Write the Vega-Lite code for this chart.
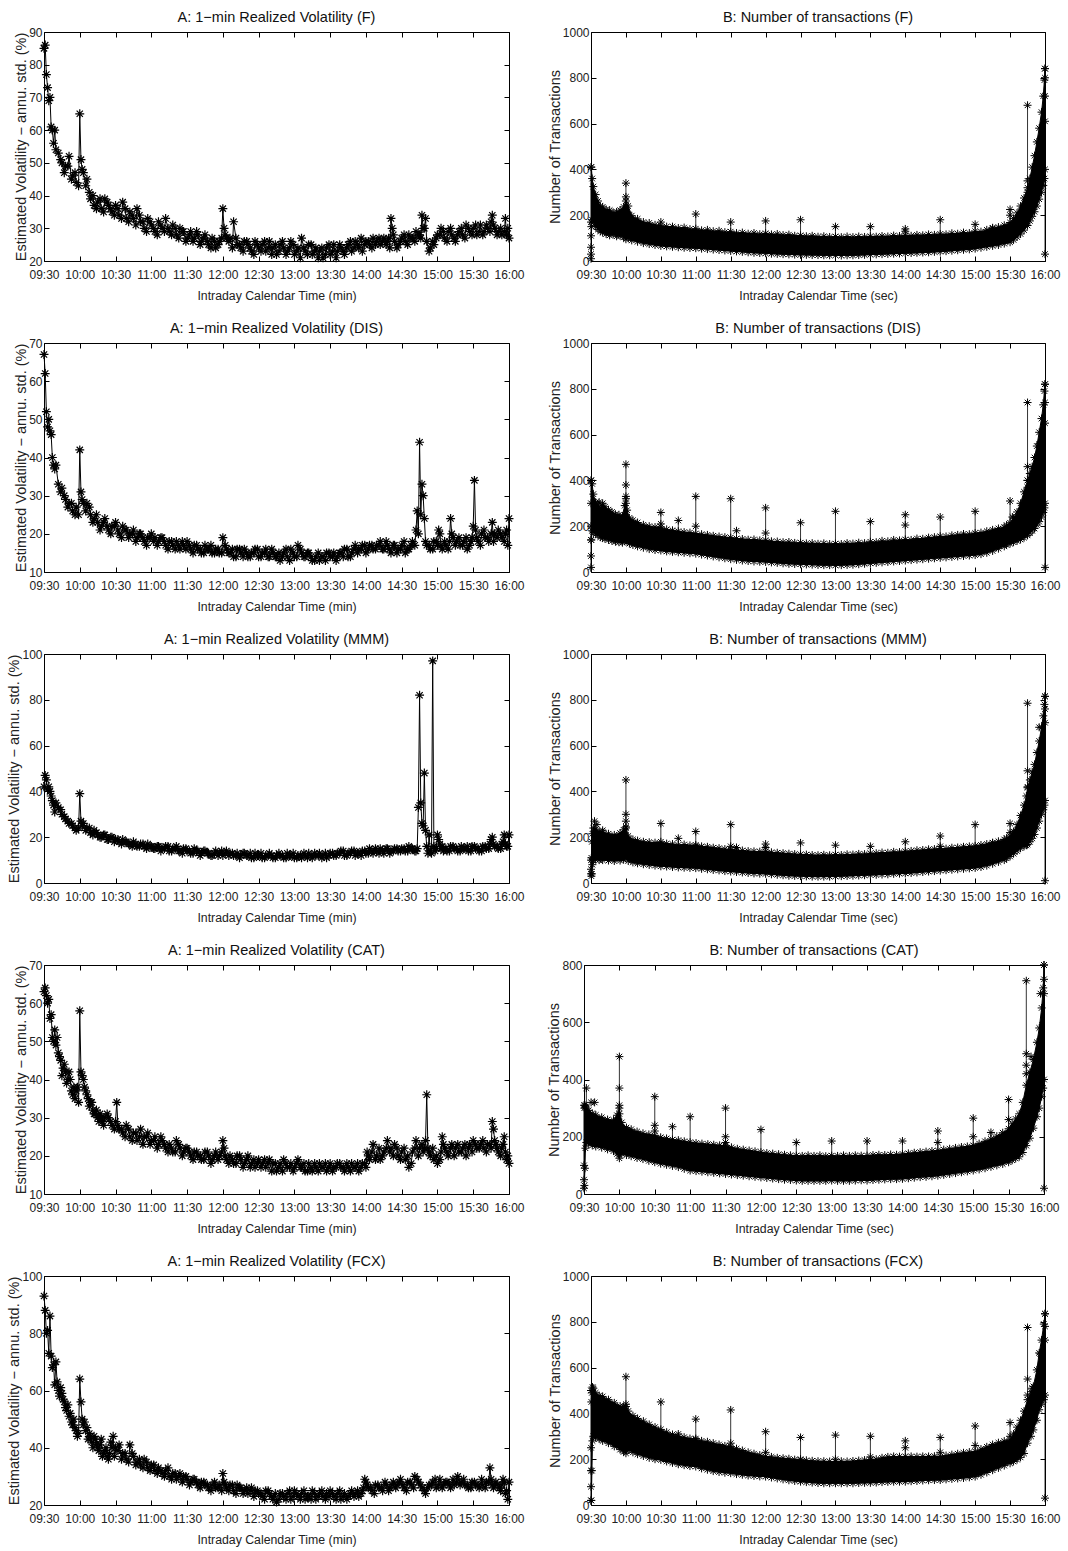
{
"$schema":"https://vega.github.io/schema/vega-lite/v6.json",
"background":"white",
"padding":{"left":6,"top":9,"right":2,"bottom":2},
"columns":2,
"align":"none",
"spacing":{"row":18,"column":21},
"datasets":{
"vF":[{"m":0,"v":85},{"m":1,"v":86},{"m":2,"v":77},{"m":3,"v":73},{"m":4,"v":69},{"m":5,"v":70},{"m":6,"v":61},{"m":7,"v":60},{"m":8,"v":56},{"m":9,"v":60},{"m":10,"v":54},{"m":12,"v":53},{"m":15,"v":50},{"m":18,"v":49},{"m":21,"v":52},{"m":24,"v":46},{"m":27,"v":44},{"m":29,"v":43},{"m":30,"v":65},{"m":31,"v":51},{"m":33,"v":47},{"m":36,"v":45},{"m":39,"v":39},{"m":42,"v":37},{"m":45,"v":38},{"m":48,"v":36},{"m":51,"v":39},{"m":54,"v":37},{"m":57,"v":35},{"m":60,"v":37},{"m":63,"v":34},{"m":66,"v":38},{"m":69,"v":33},{"m":72,"v":35},{"m":75,"v":33},{"m":78,"v":36},{"m":81,"v":32},{"m":84,"v":30},{"m":87,"v":33},{"m":90,"v":31},{"m":93,"v":29},{"m":96,"v":32},{"m":99,"v":30},{"m":102,"v":33},{"m":105,"v":29},{"m":108,"v":31},{"m":111,"v":28},{"m":114,"v":30},{"m":117,"v":29},{"m":120,"v":27},{"m":123,"v":29},{"m":126,"v":27},{"m":129,"v":28},{"m":132,"v":26},{"m":135,"v":28},{"m":138,"v":25},{"m":141,"v":27},{"m":144,"v":24},{"m":147,"v":26},{"m":150,"v":36},{"m":151,"v":30},{"m":153,"v":27},{"m":156,"v":27},{"m":159,"v":32},{"m":162,"v":25},{"m":165,"v":24},{"m":168,"v":26},{"m":171,"v":25},{"m":174,"v":23},{"m":177,"v":26},{"m":180,"v":24},{"m":183,"v":25},{"m":186,"v":23},{"m":189,"v":26},{"m":192,"v":24},{"m":195,"v":22},{"m":198,"v":25},{"m":201,"v":24},{"m":204,"v":23},{"m":207,"v":26},{"m":210,"v":22},{"m":213,"v":24},{"m":216,"v":27},{"m":219,"v":23},{"m":222,"v":25},{"m":225,"v":22},{"m":228,"v":24},{"m":231,"v":23},{"m":234,"v":21},{"m":237,"v":24},{"m":240,"v":22},{"m":243,"v":25},{"m":246,"v":23},{"m":249,"v":24},{"m":252,"v":22},{"m":255,"v":25},{"m":258,"v":23},{"m":261,"v":26},{"m":264,"v":24},{"m":267,"v":23},{"m":270,"v":26},{"m":273,"v":25},{"m":276,"v":27},{"m":279,"v":26},{"m":282,"v":25},{"m":285,"v":27},{"m":288,"v":26},{"m":290,"v":24},{"m":291,"v":33},{"m":292,"v":30},{"m":294,"v":26},{"m":297,"v":25},{"m":300,"v":27},{"m":303,"v":26},{"m":306,"v":28},{"m":309,"v":27},{"m":312,"v":29},{"m":315,"v":28},{"m":317,"v":34},{"m":318,"v":30},{"m":320,"v":33},{"m":321,"v":26},{"m":324,"v":24},{"m":327,"v":25},{"m":330,"v":28},{"m":333,"v":30},{"m":336,"v":27},{"m":339,"v":29},{"m":342,"v":28},{"m":345,"v":26},{"m":348,"v":29},{"m":351,"v":28},{"m":354,"v":31},{"m":357,"v":29},{"m":360,"v":30},{"m":363,"v":28},{"m":366,"v":31},{"m":369,"v":29},{"m":372,"v":30},{"m":375,"v":32},{"m":376,"v":34},{"m":378,"v":30},{"m":381,"v":29},{"m":384,"v":28},{"m":387,"v":33},{"m":388,"v":28},{"m":390,"v":27},
{"m":14,"v":51},{"m":17,"v":47},{"m":20,"v":49},{"m":23,"v":45},{"m":26,"v":47},{"m":32,"v":48},{"m":35,"v":43},{"m":38,"v":41},{"m":41,"v":40},{"m":44,"v":36},{"m":47,"v":39},{"m":50,"v":35},{"m":53,"v":38},{"m":56,"v":36},{"m":59,"v":34},{"m":62,"v":36},{"m":65,"v":33},{"m":68,"v":36},{"m":71,"v":32},{"m":74,"v":34},{"m":77,"v":31},{"m":80,"v":34},{"m":83,"v":32},{"m":86,"v":29},{"m":89,"v":32},{"m":92,"v":30},{"m":95,"v":28},{"m":98,"v":31},{"m":101,"v":29},{"m":104,"v":30},{"m":107,"v":28},{"m":110,"v":30},{"m":113,"v":27},{"m":116,"v":29},{"m":119,"v":26},{"m":122,"v":28},{"m":125,"v":26},{"m":128,"v":29},{"m":131,"v":25},{"m":134,"v":27},{"m":137,"v":26},{"m":140,"v":24},{"m":143,"v":26},{"m":146,"v":25},{"m":149,"v":27},{"m":152,"v":28},{"m":155,"v":26},{"m":158,"v":24},{"m":161,"v":27},{"m":164,"v":25},{"m":167,"v":23},{"m":170,"v":26},{"m":173,"v":24},{"m":176,"v":22},{"m":179,"v":25},{"m":182,"v":23},{"m":185,"v":26},{"m":188,"v":24},{"m":191,"v":22},{"m":194,"v":25},{"m":197,"v":23},{"m":200,"v":26},{"m":203,"v":22},{"m":206,"v":24},{"m":209,"v":25},{"m":212,"v":23},{"m":215,"v":21},{"m":218,"v":24},{"m":221,"v":22},{"m":224,"v":25},{"m":227,"v":23},{"m":230,"v":21},{"m":233,"v":24},{"m":236,"v":22},{"m":239,"v":25},{"m":242,"v":23},{"m":245,"v":21},{"m":248,"v":25},{"m":251,"v":23},{"m":254,"v":24},{"m":257,"v":26},{"m":260,"v":24},{"m":263,"v":25},{"m":266,"v":27},{"m":269,"v":25},{"m":272,"v":26},{"m":275,"v":24},{"m":278,"v":25},{"m":281,"v":27},{"m":284,"v":26},{"m":287,"v":25},{"m":289,"v":27},{"m":293,"v":28},{"m":296,"v":24},{"m":299,"v":26},{"m":302,"v":28},{"m":305,"v":25},{"m":308,"v":27},{"m":311,"v":26},{"m":314,"v":28},{"m":316,"v":27},{"m":319,"v":30},{"m":323,"v":23},{"m":326,"v":26},{"m":329,"v":27},{"m":332,"v":28},{"m":335,"v":29},{"m":338,"v":26},{"m":341,"v":30},{"m":344,"v":27},{"m":347,"v":28},{"m":350,"v":30},{"m":353,"v":27},{"m":356,"v":30},{"m":359,"v":28},{"m":362,"v":31},{"m":365,"v":29},{"m":368,"v":28},{"m":371,"v":31},{"m":374,"v":29},{"m":377,"v":31},{"m":380,"v":28},{"m":383,"v":30},{"m":386,"v":29},{"m":389,"v":30}],
"vDIS":[{"m":0,"v":67},{"m":1,"v":62},{"m":2,"v":52},{"m":3,"v":48},{"m":4,"v":50},{"m":5,"v":47},{"m":6,"v":46},{"m":7,"v":40},{"m":8,"v":38},{"m":9,"v":37},{"m":10,"v":38},{"m":12,"v":33},{"m":15,"v":32},{"m":18,"v":29},{"m":21,"v":28},{"m":24,"v":26},{"m":27,"v":27},{"m":29,"v":25},{"m":30,"v":42},{"m":31,"v":31},{"m":33,"v":28},{"m":36,"v":28},{"m":39,"v":25},{"m":42,"v":24},{"m":45,"v":23},{"m":48,"v":22},{"m":51,"v":24},{"m":54,"v":21},{"m":57,"v":22},{"m":60,"v":23},{"m":63,"v":20},{"m":66,"v":22},{"m":69,"v":21},{"m":72,"v":20},{"m":75,"v":21},{"m":78,"v":19},{"m":81,"v":20},{"m":84,"v":18},{"m":87,"v":19},{"m":90,"v":20},{"m":93,"v":19},{"m":96,"v":18},{"m":99,"v":19},{"m":102,"v":17},{"m":105,"v":18},{"m":108,"v":17},{"m":111,"v":18},{"m":114,"v":16},{"m":117,"v":17},{"m":120,"v":18},{"m":123,"v":16},{"m":126,"v":17},{"m":129,"v":16},{"m":132,"v":15},{"m":135,"v":17},{"m":138,"v":16},{"m":141,"v":15},{"m":144,"v":16},{"m":147,"v":15},{"m":150,"v":19},{"m":153,"v":16},{"m":156,"v":15},{"m":159,"v":14},{"m":162,"v":16},{"m":165,"v":15},{"m":168,"v":16},{"m":171,"v":14},{"m":174,"v":15},{"m":177,"v":16},{"m":180,"v":14},{"m":183,"v":15},{"m":186,"v":16},{"m":189,"v":14},{"m":192,"v":15},{"m":195,"v":14},{"m":198,"v":13},{"m":201,"v":15},{"m":204,"v":14},{"m":207,"v":16},{"m":210,"v":14},{"m":213,"v":17},{"m":216,"v":15},{"m":219,"v":14},{"m":222,"v":15},{"m":225,"v":13},{"m":228,"v":14},{"m":231,"v":13},{"m":234,"v":14},{"m":237,"v":15},{"m":240,"v":14},{"m":243,"v":15},{"m":246,"v":14},{"m":249,"v":15},{"m":252,"v":16},{"m":255,"v":14},{"m":258,"v":15},{"m":261,"v":17},{"m":264,"v":16},{"m":267,"v":17},{"m":270,"v":15},{"m":273,"v":17},{"m":276,"v":16},{"m":279,"v":17},{"m":282,"v":18},{"m":285,"v":16},{"m":288,"v":17},{"m":291,"v":15},{"m":294,"v":17},{"m":297,"v":16},{"m":300,"v":17},{"m":303,"v":15},{"m":306,"v":16},{"m":309,"v":18},{"m":312,"v":21},{"m":313,"v":26},{"m":315,"v":44},{"m":316,"v":25},{"m":317,"v":33},{"m":318,"v":30},{"m":319,"v":24},{"m":321,"v":17},{"m":324,"v":16},{"m":327,"v":18},{"m":330,"v":17},{"m":331,"v":21},{"m":332,"v":20},{"m":334,"v":16},{"m":337,"v":17},{"m":340,"v":18},{"m":341,"v":24},{"m":343,"v":19},{"m":346,"v":18},{"m":349,"v":17},{"m":352,"v":18},{"m":355,"v":16},{"m":358,"v":18},{"m":360,"v":22},{"m":361,"v":34},{"m":362,"v":21},{"m":364,"v":18},{"m":367,"v":20},{"m":370,"v":19},{"m":373,"v":18},{"m":376,"v":23},{"m":378,"v":20},{"m":381,"v":21},{"m":384,"v":19},{"m":387,"v":20},{"m":389,"v":17},{"m":390,"v":24},
{"m":14,"v":31},{"m":17,"v":30},{"m":20,"v":27},{"m":23,"v":28},{"m":26,"v":25},{"m":32,"v":29},{"m":35,"v":26},{"m":38,"v":27},{"m":41,"v":23},{"m":44,"v":25},{"m":47,"v":21},{"m":50,"v":23},{"m":53,"v":22},{"m":56,"v":20},{"m":59,"v":22},{"m":62,"v":21},{"m":65,"v":19},{"m":68,"v":21},{"m":71,"v":19},{"m":74,"v":20},{"m":77,"v":18},{"m":80,"v":20},{"m":83,"v":19},{"m":86,"v":17},{"m":89,"v":19},{"m":92,"v":18},{"m":95,"v":17},{"m":98,"v":19},{"m":101,"v":18},{"m":104,"v":16},{"m":107,"v":18},{"m":110,"v":16},{"m":113,"v":17},{"m":116,"v":18},{"m":119,"v":16},{"m":122,"v":17},{"m":125,"v":15},{"m":128,"v":17},{"m":131,"v":16},{"m":134,"v":15},{"m":137,"v":16},{"m":140,"v":17},{"m":143,"v":15},{"m":146,"v":16},{"m":149,"v":15},{"m":152,"v":17},{"m":155,"v":15},{"m":158,"v":16},{"m":161,"v":14},{"m":164,"v":16},{"m":167,"v":14},{"m":170,"v":15},{"m":173,"v":14},{"m":176,"v":15},{"m":179,"v":16},{"m":182,"v":14},{"m":185,"v":15},{"m":188,"v":14},{"m":191,"v":16},{"m":194,"v":14},{"m":197,"v":15},{"m":200,"v":14},{"m":203,"v":16},{"m":206,"v":13},{"m":209,"v":15},{"m":212,"v":14},{"m":215,"v":16},{"m":218,"v":14},{"m":221,"v":15},{"m":224,"v":14},{"m":227,"v":13},{"m":230,"v":15},{"m":233,"v":14},{"m":236,"v":13},{"m":239,"v":15},{"m":242,"v":14},{"m":245,"v":13},{"m":248,"v":15},{"m":251,"v":14},{"m":254,"v":16},{"m":257,"v":14},{"m":260,"v":16},{"m":263,"v":15},{"m":266,"v":16},{"m":269,"v":17},{"m":272,"v":16},{"m":275,"v":17},{"m":278,"v":16},{"m":281,"v":17},{"m":284,"v":16},{"m":287,"v":18},{"m":290,"v":16},{"m":293,"v":17},{"m":296,"v":15},{"m":299,"v":16},{"m":302,"v":18},{"m":305,"v":16},{"m":308,"v":17},{"m":311,"v":17},{"m":314,"v":20},{"m":320,"v":18},{"m":323,"v":17},{"m":326,"v":16},{"m":329,"v":18},{"m":333,"v":17},{"m":336,"v":18},{"m":339,"v":16},{"m":342,"v":20},{"m":345,"v":17},{"m":348,"v":19},{"m":351,"v":17},{"m":354,"v":19},{"m":357,"v":17},{"m":359,"v":19},{"m":363,"v":19},{"m":366,"v":17},{"m":369,"v":21},{"m":372,"v":19},{"m":375,"v":20},{"m":377,"v":18},{"m":380,"v":19},{"m":383,"v":20},{"m":386,"v":18},{"m":388,"v":21}],
"vMMM":[{"m":0,"v":42},{"m":1,"v":47},{"m":2,"v":45},{"m":3,"v":41},{"m":4,"v":42},{"m":5,"v":40},{"m":6,"v":38},{"m":7,"v":36},{"m":8,"v":34},{"m":9,"v":31},{"m":10,"v":35},{"m":12,"v":33},{"m":15,"v":30},{"m":18,"v":28},{"m":21,"v":26},{"m":24,"v":25},{"m":27,"v":23},{"m":29,"v":24},{"m":30,"v":39},{"m":31,"v":27},{"m":33,"v":26},{"m":36,"v":24},{"m":39,"v":22},{"m":42,"v":23},{"m":45,"v":21},{"m":48,"v":20},{"m":51,"v":21},{"m":54,"v":19},{"m":57,"v":20},{"m":60,"v":19},{"m":63,"v":18},{"m":66,"v":19},{"m":69,"v":18},{"m":72,"v":17},{"m":75,"v":18},{"m":78,"v":16},{"m":81,"v":17},{"m":84,"v":16},{"m":87,"v":17},{"m":90,"v":16},{"m":93,"v":15},{"m":96,"v":16},{"m":99,"v":15},{"m":102,"v":16},{"m":105,"v":14},{"m":108,"v":15},{"m":111,"v":16},{"m":114,"v":14},{"m":117,"v":15},{"m":120,"v":14},{"m":123,"v":13},{"m":126,"v":15},{"m":129,"v":14},{"m":132,"v":13},{"m":135,"v":14},{"m":138,"v":13},{"m":141,"v":12},{"m":144,"v":14},{"m":147,"v":13},{"m":150,"v":12},{"m":153,"v":14},{"m":156,"v":13},{"m":159,"v":12},{"m":162,"v":13},{"m":165,"v":12},{"m":168,"v":13},{"m":171,"v":12},{"m":174,"v":11},{"m":177,"v":13},{"m":180,"v":12},{"m":183,"v":11},{"m":186,"v":12},{"m":189,"v":13},{"m":192,"v":11},{"m":195,"v":12},{"m":198,"v":12},{"m":201,"v":11},{"m":204,"v":13},{"m":207,"v":12},{"m":210,"v":11},{"m":213,"v":12},{"m":216,"v":11},{"m":219,"v":12},{"m":222,"v":13},{"m":225,"v":11},{"m":228,"v":12},{"m":231,"v":13},{"m":234,"v":12},{"m":237,"v":11},{"m":240,"v":13},{"m":243,"v":12},{"m":246,"v":13},{"m":249,"v":14},{"m":252,"v":12},{"m":255,"v":13},{"m":258,"v":14},{"m":261,"v":12},{"m":264,"v":13},{"m":267,"v":14},{"m":270,"v":13},{"m":273,"v":15},{"m":276,"v":13},{"m":279,"v":14},{"m":282,"v":15},{"m":285,"v":13},{"m":288,"v":15},{"m":291,"v":14},{"m":294,"v":15},{"m":297,"v":14},{"m":300,"v":15},{"m":303,"v":14},{"m":306,"v":16},{"m":309,"v":15},{"m":312,"v":14},{"m":314,"v":33},{"m":315,"v":82},{"m":316,"v":35},{"m":317,"v":26},{"m":319,"v":48},{"m":320,"v":23},{"m":321,"v":16},{"m":322,"v":13},{"m":323,"v":21},{"m":324,"v":14},{"m":325,"v":13},{"m":326,"v":97},{"m":327,"v":16},{"m":328,"v":14},{"m":330,"v":21},{"m":331,"v":19},{"m":333,"v":15},{"m":335,"v":14},{"m":338,"v":14},{"m":341,"v":16},{"m":344,"v":15},{"m":347,"v":14},{"m":350,"v":16},{"m":353,"v":15},{"m":356,"v":14},{"m":359,"v":16},{"m":362,"v":15},{"m":365,"v":14},{"m":368,"v":16},{"m":371,"v":15},{"m":374,"v":17},{"m":376,"v":20},{"m":378,"v":16},{"m":381,"v":15},{"m":384,"v":17},{"m":386,"v":21},{"m":388,"v":16},{"m":390,"v":21},
{"m":14,"v":32},{"m":17,"v":29},{"m":20,"v":27},{"m":23,"v":26},{"m":26,"v":24},{"m":32,"v":25},{"m":35,"v":23},{"m":38,"v":24},{"m":41,"v":21},{"m":44,"v":22},{"m":47,"v":20},{"m":50,"v":21},{"m":53,"v":19},{"m":56,"v":20},{"m":59,"v":18},{"m":62,"v":19},{"m":65,"v":17},{"m":68,"v":18},{"m":71,"v":17},{"m":74,"v":16},{"m":77,"v":17},{"m":80,"v":16},{"m":83,"v":17},{"m":86,"v":15},{"m":89,"v":16},{"m":92,"v":15},{"m":95,"v":16},{"m":98,"v":14},{"m":101,"v":15},{"m":104,"v":16},{"m":107,"v":14},{"m":110,"v":15},{"m":113,"v":14},{"m":116,"v":13},{"m":119,"v":15},{"m":122,"v":14},{"m":125,"v":13},{"m":128,"v":14},{"m":131,"v":12},{"m":134,"v":14},{"m":137,"v":13},{"m":140,"v":12},{"m":143,"v":13},{"m":146,"v":12},{"m":149,"v":14},{"m":152,"v":13},{"m":155,"v":12},{"m":158,"v":13},{"m":161,"v":12},{"m":164,"v":11},{"m":167,"v":13},{"m":170,"v":12},{"m":173,"v":13},{"m":176,"v":11},{"m":179,"v":12},{"m":182,"v":13},{"m":185,"v":11},{"m":188,"v":12},{"m":191,"v":12},{"m":194,"v":11},{"m":197,"v":13},{"m":200,"v":12},{"m":203,"v":11},{"m":206,"v":12},{"m":209,"v":13},{"m":212,"v":11},{"m":215,"v":12},{"m":218,"v":13},{"m":221,"v":11},{"m":224,"v":12},{"m":227,"v":13},{"m":230,"v":12},{"m":233,"v":11},{"m":236,"v":13},{"m":239,"v":12},{"m":242,"v":13},{"m":245,"v":12},{"m":248,"v":13},{"m":251,"v":14},{"m":254,"v":12},{"m":257,"v":13},{"m":260,"v":14},{"m":263,"v":13},{"m":266,"v":12},{"m":269,"v":14},{"m":272,"v":13},{"m":275,"v":14},{"m":278,"v":15},{"m":281,"v":13},{"m":284,"v":14},{"m":287,"v":15},{"m":290,"v":13},{"m":293,"v":14},{"m":296,"v":15},{"m":299,"v":14},{"m":302,"v":15},{"m":305,"v":14},{"m":308,"v":15},{"m":311,"v":14},{"m":313,"v":15},{"m":318,"v":25},{"m":329,"v":15},{"m":332,"v":17},{"m":334,"v":16},{"m":337,"v":15},{"m":340,"v":14},{"m":343,"v":16},{"m":346,"v":15},{"m":349,"v":14},{"m":352,"v":15},{"m":355,"v":16},{"m":358,"v":14},{"m":361,"v":16},{"m":364,"v":15},{"m":367,"v":14},{"m":370,"v":16},{"m":373,"v":15},{"m":375,"v":19},{"m":377,"v":17},{"m":380,"v":16},{"m":383,"v":15},{"m":385,"v":18},{"m":387,"v":17},{"m":389,"v":16}],
"vCAT":[{"m":0,"v":63},{"m":1,"v":64},{"m":2,"v":62},{"m":3,"v":60},{"m":4,"v":61},{"m":5,"v":56},{"m":6,"v":57},{"m":7,"v":51},{"m":8,"v":50},{"m":9,"v":53},{"m":10,"v":49},{"m":11,"v":51},{"m":12,"v":47},{"m":14,"v":45},{"m":15,"v":41},{"m":17,"v":44},{"m":18,"v":42},{"m":20,"v":40},{"m":21,"v":42},{"m":23,"v":37},{"m":25,"v":38},{"m":26,"v":35},{"m":28,"v":38},{"m":29,"v":34},{"m":30,"v":58},{"m":31,"v":42},{"m":32,"v":41},{"m":33,"v":40},{"m":35,"v":37},{"m":37,"v":35},{"m":39,"v":34},{"m":41,"v":32},{"m":43,"v":31},{"m":45,"v":30},{"m":47,"v":31},{"m":49,"v":29},{"m":51,"v":30},{"m":54,"v":30},{"m":57,"v":28},{"m":60,"v":29},{"m":61,"v":34},{"m":63,"v":27},{"m":66,"v":26},{"m":69,"v":28},{"m":72,"v":25},{"m":75,"v":26},{"m":78,"v":24},{"m":81,"v":27},{"m":84,"v":25},{"m":87,"v":26},{"m":90,"v":24},{"m":93,"v":25},{"m":96,"v":23},{"m":99,"v":24},{"m":102,"v":22},{"m":105,"v":23},{"m":108,"v":21},{"m":111,"v":24},{"m":114,"v":22},{"m":117,"v":21},{"m":120,"v":22},{"m":123,"v":20},{"m":126,"v":21},{"m":129,"v":20},{"m":132,"v":19},{"m":135,"v":21},{"m":138,"v":20},{"m":141,"v":19},{"m":144,"v":21},{"m":147,"v":20},{"m":150,"v":24},{"m":151,"v":22},{"m":153,"v":19},{"m":156,"v":20},{"m":159,"v":18},{"m":162,"v":20},{"m":165,"v":19},{"m":168,"v":18},{"m":171,"v":20},{"m":174,"v":18},{"m":177,"v":17},{"m":180,"v":19},{"m":183,"v":18},{"m":186,"v":17},{"m":189,"v":19},{"m":192,"v":18},{"m":195,"v":16},{"m":198,"v":18},{"m":201,"v":19},{"m":204,"v":17},{"m":207,"v":18},{"m":210,"v":17},{"m":213,"v":19},{"m":216,"v":17},{"m":219,"v":16},{"m":222,"v":18},{"m":225,"v":16},{"m":228,"v":17},{"m":231,"v":18},{"m":234,"v":17},{"m":237,"v":16},{"m":240,"v":18},{"m":243,"v":17},{"m":246,"v":18},{"m":249,"v":17},{"m":252,"v":16},{"m":255,"v":17},{"m":258,"v":18},{"m":261,"v":17},{"m":264,"v":16},{"m":267,"v":18},{"m":270,"v":17},{"m":271,"v":21},{"m":273,"v":19},{"m":276,"v":23},{"m":279,"v":20},{"m":282,"v":19},{"m":285,"v":21},{"m":288,"v":24},{"m":291,"v":22},{"m":294,"v":23},{"m":297,"v":20},{"m":300,"v":21},{"m":303,"v":19},{"m":306,"v":17},{"m":309,"v":21},{"m":312,"v":24},{"m":315,"v":22},{"m":318,"v":21},{"m":320,"v":24},{"m":321,"v":36},{"m":322,"v":22},{"m":324,"v":20},{"m":327,"v":19},{"m":330,"v":18},{"m":333,"v":21},{"m":334,"v":25},{"m":336,"v":22},{"m":339,"v":20},{"m":342,"v":23},{"m":345,"v":22},{"m":348,"v":21},{"m":351,"v":22},{"m":354,"v":20},{"m":357,"v":23},{"m":360,"v":24},{"m":363,"v":22},{"m":366,"v":23},{"m":369,"v":22},{"m":372,"v":23},{"m":375,"v":22},{"m":376,"v":29},{"m":377,"v":27},{"m":379,"v":23},{"m":381,"v":21},{"m":384,"v":22},{"m":386,"v":25},{"m":388,"v":19},{"m":390,"v":18},
{"m":13,"v":46},{"m":16,"v":43},{"m":19,"v":39},{"m":22,"v":40},{"m":24,"v":36},{"m":27,"v":37},{"m":34,"v":38},{"m":36,"v":36},{"m":38,"v":33},{"m":40,"v":34},{"m":42,"v":31},{"m":44,"v":32},{"m":46,"v":29},{"m":48,"v":30},{"m":50,"v":28},{"m":53,"v":31},{"m":56,"v":29},{"m":59,"v":27},{"m":62,"v":28},{"m":65,"v":27},{"m":68,"v":25},{"m":71,"v":27},{"m":74,"v":24},{"m":77,"v":26},{"m":80,"v":25},{"m":83,"v":23},{"m":86,"v":25},{"m":89,"v":23},{"m":92,"v":24},{"m":95,"v":22},{"m":98,"v":25},{"m":101,"v":23},{"m":104,"v":21},{"m":107,"v":22},{"m":110,"v":21},{"m":113,"v":23},{"m":116,"v":20},{"m":119,"v":22},{"m":122,"v":21},{"m":125,"v":19},{"m":128,"v":21},{"m":131,"v":20},{"m":134,"v":19},{"m":137,"v":21},{"m":140,"v":18},{"m":143,"v":20},{"m":146,"v":19},{"m":149,"v":21},{"m":152,"v":20},{"m":155,"v":18},{"m":158,"v":19},{"m":161,"v":18},{"m":164,"v":20},{"m":167,"v":17},{"m":170,"v":19},{"m":173,"v":17},{"m":176,"v":19},{"m":179,"v":18},{"m":182,"v":17},{"m":185,"v":19},{"m":188,"v":18},{"m":191,"v":16},{"m":194,"v":18},{"m":197,"v":17},{"m":200,"v":16},{"m":203,"v":18},{"m":206,"v":17},{"m":209,"v":16},{"m":212,"v":18},{"m":215,"v":17},{"m":218,"v":18},{"m":221,"v":16},{"m":224,"v":17},{"m":227,"v":18},{"m":230,"v":16},{"m":233,"v":17},{"m":236,"v":18},{"m":239,"v":17},{"m":242,"v":16},{"m":245,"v":17},{"m":248,"v":18},{"m":251,"v":17},{"m":254,"v":18},{"m":257,"v":16},{"m":260,"v":17},{"m":263,"v":18},{"m":266,"v":17},{"m":269,"v":18},{"m":272,"v":20},{"m":275,"v":21},{"m":278,"v":19},{"m":281,"v":22},{"m":284,"v":20},{"m":287,"v":22},{"m":290,"v":21},{"m":293,"v":20},{"m":296,"v":22},{"m":299,"v":19},{"m":302,"v":22},{"m":305,"v":20},{"m":308,"v":18},{"m":311,"v":22},{"m":314,"v":20},{"m":317,"v":23},{"m":319,"v":22},{"m":323,"v":21},{"m":326,"v":22},{"m":329,"v":20},{"m":332,"v":19},{"m":335,"v":23},{"m":338,"v":21},{"m":341,"v":22},{"m":344,"v":20},{"m":347,"v":23},{"m":350,"v":21},{"m":353,"v":23},{"m":356,"v":22},{"m":359,"v":21},{"m":362,"v":23},{"m":365,"v":22},{"m":368,"v":24},{"m":371,"v":21},{"m":374,"v":23},{"m":378,"v":24},{"m":380,"v":22},{"m":383,"v":20},{"m":385,"v":23},{"m":387,"v":21},{"m":389,"v":20}],
"vFCX":[{"m":0,"v":93},{"m":1,"v":88},{"m":2,"v":80},{"m":3,"v":81},{"m":4,"v":73},{"m":5,"v":86},{"m":6,"v":72},{"m":7,"v":68},{"m":8,"v":69},{"m":9,"v":62},{"m":10,"v":70},{"m":11,"v":63},{"m":12,"v":60},{"m":14,"v":61},{"m":15,"v":59},{"m":17,"v":56},{"m":18,"v":54},{"m":20,"v":55},{"m":21,"v":51},{"m":23,"v":49},{"m":25,"v":50},{"m":27,"v":46},{"m":29,"v":45},{"m":30,"v":64},{"m":31,"v":56},{"m":32,"v":50},{"m":34,"v":49},{"m":36,"v":47},{"m":38,"v":45},{"m":40,"v":42},{"m":42,"v":44},{"m":44,"v":41},{"m":46,"v":39},{"m":48,"v":43},{"m":50,"v":38},{"m":52,"v":40},{"m":54,"v":36},{"m":56,"v":42},{"m":58,"v":44},{"m":60,"v":40},{"m":63,"v":41},{"m":66,"v":38},{"m":69,"v":36},{"m":72,"v":41},{"m":75,"v":37},{"m":78,"v":35},{"m":81,"v":34},{"m":84,"v":36},{"m":87,"v":33},{"m":90,"v":34},{"m":93,"v":32},{"m":96,"v":33},{"m":99,"v":31},{"m":102,"v":32},{"m":105,"v":30},{"m":108,"v":31},{"m":111,"v":29},{"m":114,"v":31},{"m":117,"v":30},{"m":120,"v":29},{"m":123,"v":28},{"m":126,"v":29},{"m":129,"v":27},{"m":132,"v":28},{"m":135,"v":27},{"m":138,"v":26},{"m":141,"v":27},{"m":144,"v":26},{"m":147,"v":27},{"m":150,"v":31},{"m":151,"v":28},{"m":153,"v":26},{"m":156,"v":27},{"m":159,"v":25},{"m":162,"v":27},{"m":165,"v":26},{"m":168,"v":25},{"m":171,"v":24},{"m":174,"v":26},{"m":177,"v":25},{"m":180,"v":24},{"m":183,"v":23},{"m":186,"v":25},{"m":189,"v":24},{"m":192,"v":22},{"m":195,"v":21},{"m":198,"v":24},{"m":201,"v":23},{"m":204,"v":24},{"m":207,"v":22},{"m":210,"v":25},{"m":213,"v":23},{"m":216,"v":24},{"m":219,"v":22},{"m":222,"v":23},{"m":225,"v":25},{"m":228,"v":22},{"m":231,"v":24},{"m":234,"v":23},{"m":237,"v":24},{"m":240,"v":25},{"m":243,"v":23},{"m":246,"v":24},{"m":249,"v":22},{"m":252,"v":24},{"m":255,"v":23},{"m":258,"v":25},{"m":261,"v":24},{"m":264,"v":23},{"m":267,"v":25},{"m":269,"v":29},{"m":270,"v":28},{"m":272,"v":26},{"m":275,"v":25},{"m":278,"v":27},{"m":281,"v":26},{"m":284,"v":25},{"m":287,"v":27},{"m":290,"v":26},{"m":293,"v":28},{"m":296,"v":27},{"m":299,"v":29},{"m":302,"v":26},{"m":305,"v":28},{"m":308,"v":27},{"m":311,"v":30},{"m":314,"v":28},{"m":317,"v":26},{"m":320,"v":24},{"m":323,"v":27},{"m":326,"v":28},{"m":329,"v":26},{"m":332,"v":29},{"m":335,"v":27},{"m":338,"v":28},{"m":341,"v":26},{"m":344,"v":27},{"m":347,"v":30},{"m":350,"v":28},{"m":353,"v":27},{"m":356,"v":26},{"m":359,"v":28},{"m":362,"v":27},{"m":365,"v":26},{"m":368,"v":27},{"m":371,"v":28},{"m":374,"v":33},{"m":375,"v":29},{"m":377,"v":26},{"m":380,"v":27},{"m":383,"v":25},{"m":385,"v":29},{"m":387,"v":24},{"m":389,"v":22},{"m":390,"v":28},
{"m":13,"v":58},{"m":16,"v":57},{"m":19,"v":53},{"m":22,"v":52},{"m":24,"v":48},{"m":26,"v":47},{"m":28,"v":44},{"m":33,"v":48},{"m":35,"v":46},{"m":37,"v":43},{"m":39,"v":44},{"m":41,"v":40},{"m":43,"v":43},{"m":45,"v":40},{"m":47,"v":41},{"m":49,"v":37},{"m":51,"v":39},{"m":53,"v":37},{"m":55,"v":38},{"m":57,"v":40},{"m":59,"v":37},{"m":62,"v":39},{"m":65,"v":36},{"m":68,"v":38},{"m":71,"v":35},{"m":74,"v":38},{"m":77,"v":34},{"m":80,"v":36},{"m":83,"v":33},{"m":86,"v":35},{"m":89,"v":32},{"m":92,"v":34},{"m":95,"v":31},{"m":98,"v":32},{"m":101,"v":30},{"m":104,"v":33},{"m":107,"v":29},{"m":110,"v":31},{"m":113,"v":30},{"m":116,"v":28},{"m":119,"v":30},{"m":122,"v":27},{"m":125,"v":29},{"m":128,"v":28},{"m":131,"v":26},{"m":134,"v":28},{"m":137,"v":27},{"m":140,"v":25},{"m":143,"v":28},{"m":146,"v":26},{"m":149,"v":25},{"m":152,"v":27},{"m":155,"v":25},{"m":158,"v":27},{"m":161,"v":24},{"m":164,"v":26},{"m":167,"v":24},{"m":170,"v":26},{"m":173,"v":25},{"m":176,"v":23},{"m":179,"v":25},{"m":182,"v":24},{"m":185,"v":22},{"m":188,"v":25},{"m":191,"v":23},{"m":194,"v":24},{"m":197,"v":22},{"m":200,"v":24},{"m":203,"v":22},{"m":206,"v":25},{"m":209,"v":23},{"m":212,"v":24},{"m":215,"v":22},{"m":218,"v":25},{"m":221,"v":23},{"m":224,"v":22},{"m":227,"v":24},{"m":230,"v":23},{"m":233,"v":25},{"m":236,"v":22},{"m":239,"v":23},{"m":242,"v":24},{"m":245,"v":22},{"m":248,"v":25},{"m":251,"v":23},{"m":254,"v":22},{"m":257,"v":24},{"m":260,"v":23},{"m":263,"v":25},{"m":266,"v":24},{"m":268,"v":26},{"m":271,"v":27},{"m":274,"v":26},{"m":277,"v":24},{"m":280,"v":27},{"m":283,"v":26},{"m":286,"v":28},{"m":289,"v":25},{"m":292,"v":27},{"m":295,"v":26},{"m":298,"v":28},{"m":301,"v":27},{"m":304,"v":25},{"m":307,"v":28},{"m":310,"v":26},{"m":313,"v":29},{"m":316,"v":27},{"m":319,"v":25},{"m":322,"v":26},{"m":325,"v":27},{"m":328,"v":29},{"m":331,"v":27},{"m":334,"v":26},{"m":337,"v":28},{"m":340,"v":27},{"m":343,"v":29},{"m":346,"v":28},{"m":349,"v":27},{"m":352,"v":29},{"m":355,"v":27},{"m":358,"v":26},{"m":361,"v":28},{"m":364,"v":27},{"m":367,"v":29},{"m":370,"v":26},{"m":373,"v":28},{"m":376,"v":27},{"m":379,"v":28},{"m":382,"v":26},{"m":384,"v":27},{"m":386,"v":28},{"m":388,"v":25}],
"nF":[{"m":0.3,"lo":150,"hi":410},{"m":1,"lo":180,"hi":360},{"m":2,"lo":170,"hi":325},{"m":4,"lo":150,"hi":290},{"m":6,"lo":138,"hi":262},{"m":8,"lo":130,"hi":240},{"m":10,"lo":124,"hi":236},{"m":13,"lo":118,"hi":225},{"m":16,"lo":112,"hi":222},{"m":19,"lo":116,"hi":212},{"m":22,"lo":108,"hi":214},{"m":25,"lo":110,"hi":222},{"m":28,"lo":104,"hi":236},{"m":30,"lo":95,"hi":262},{"m":32,"lo":100,"hi":240},{"m":35,"lo":90,"hi":198},{"m":40,"lo":84,"hi":184},{"m":45,"lo":78,"hi":170},{"m":50,"lo":74,"hi":166},{"m":55,"lo":70,"hi":158},{"m":60,"lo":66,"hi":154},{"m":65,"lo":64,"hi":150},{"m":70,"lo":62,"hi":150},{"m":75,"lo":60,"hi":144},{"m":80,"lo":58,"hi":146},{"m":85,"lo":57,"hi":139},{"m":90,"lo":56,"hi":141},{"m":95,"lo":54,"hi":134},{"m":100,"lo":52,"hi":136},{"m":105,"lo":50,"hi":130},{"m":110,"lo":48,"hi":132},{"m":115,"lo":46,"hi":126},{"m":120,"lo":44,"hi":128},{"m":125,"lo":42,"hi":122},{"m":130,"lo":40,"hi":124},{"m":135,"lo":38,"hi":119},{"m":140,"lo":36,"hi":122},{"m":145,"lo":35,"hi":117},{"m":150,"lo":34,"hi":121},{"m":155,"lo":32,"hi":116},{"m":160,"lo":31,"hi":118},{"m":165,"lo":30,"hi":113},{"m":170,"lo":29,"hi":115},{"m":175,"lo":28,"hi":110},{"m":180,"lo":27,"hi":112},{"m":185,"lo":27,"hi":108},{"m":190,"lo":26,"hi":110},{"m":195,"lo":26,"hi":106},{"m":200,"lo":25,"hi":108},{"m":205,"lo":25,"hi":105},{"m":210,"lo":25,"hi":107},{"m":215,"lo":24,"hi":104},{"m":220,"lo":25,"hi":107},{"m":225,"lo":25,"hi":104},{"m":230,"lo":26,"hi":107},{"m":235,"lo":27,"hi":105},{"m":240,"lo":28,"hi":108},{"m":245,"lo":29,"hi":106},{"m":250,"lo":30,"hi":109},{"m":255,"lo":31,"hi":107},{"m":260,"lo":32,"hi":111},{"m":265,"lo":33,"hi":109},{"m":270,"lo":34,"hi":113},{"m":275,"lo":35,"hi":110},{"m":280,"lo":36,"hi":114},{"m":285,"lo":37,"hi":112},{"m":290,"lo":38,"hi":116},{"m":295,"lo":40,"hi":114},{"m":300,"lo":41,"hi":118},{"m":305,"lo":43,"hi":116},{"m":310,"lo":45,"hi":121},{"m":315,"lo":47,"hi":119},{"m":320,"lo":49,"hi":124},{"m":325,"lo":51,"hi":122},{"m":330,"lo":54,"hi":130},{"m":335,"lo":58,"hi":128},{"m":340,"lo":62,"hi":136},{"m":345,"lo":66,"hi":142},{"m":350,"lo":70,"hi":148},{"m":355,"lo":76,"hi":156},{"m":360,"lo":82,"hi":168},{"m":363,"lo":92,"hi":185},{"m":366,"lo":105,"hi":210},{"m":369,"lo":118,"hi":240},{"m":372,"lo":135,"hi":275},{"m":375,"lo":155,"hi":320},{"m":377,"lo":175,"hi":360},{"m":379,"lo":195,"hi":410},{"m":381,"lo":215,"hi":460},{"m":383,"lo":240,"hi":520},{"m":385,"lo":270,"hi":580},{"m":387,"lo":300,"hi":650},{"m":388.5,"lo":330,"hi":720},{"m":389.5,"lo":360,"hi":790},{"m":390,"lo":400,"hi":840}],
"sF":[{"m":0,"hi":410,"b":0},{"m":0,"hi":10,"b":10},{"m":0,"hi":30,"b":30},{"m":0,"hi":60,"b":60},{"m":0,"hi":110,"b":110},{"m":0,"hi":170,"b":170},{"m":30,"hi":340,"b":230},{"m":30,"hi":280,"b":280},{"m":60,"hi":170,"b":150},{"m":90,"hi":205,"b":140},{"m":120,"hi":170,"b":125},{"m":150,"hi":175,"b":120},{"m":180,"hi":180,"b":112},{"m":210,"hi":150,"b":107},{"m":240,"hi":150,"b":108},{"m":270,"hi":140,"b":113},{"m":270,"hi":130,"b":130},{"m":300,"hi":180,"b":118},{"m":330,"hi":160,"b":130},{"m":345,"hi":145,"b":142},{"m":360,"hi":225,"b":168},{"m":360,"hi":200,"b":200},{"m":375,"hi":680,"b":320},{"m":375,"hi":350,"b":350},{"m":375,"hi":300,"b":300},{"m":390,"hi":840,"b":30},{"m":390,"hi":800,"b":800},{"m":390,"hi":720,"b":720},{"m":390,"hi":610,"b":610},{"m":390,"hi":30,"b":30}],
"nDIS":[{"m":0.3,"lo":140,"hi":400},{"m":1,"lo":180,"hi":385},{"m":2,"lo":175,"hi":340},{"m":4,"lo":165,"hi":305},{"m":6,"lo":160,"hi":292},{"m":8,"lo":152,"hi":280},{"m":10,"lo":148,"hi":300},{"m":12,"lo":145,"hi":285},{"m":15,"lo":140,"hi":272},{"m":18,"lo":136,"hi":262},{"m":21,"lo":132,"hi":252},{"m":24,"lo":130,"hi":250},{"m":27,"lo":128,"hi":245},{"m":29,"lo":135,"hi":290},{"m":30,"lo":140,"hi":320},{"m":31,"lo":132,"hi":270},{"m":33,"lo":124,"hi":236},{"m":36,"lo":118,"hi":226},{"m":40,"lo":112,"hi":216},{"m":45,"lo":106,"hi":206},{"m":50,"lo":100,"hi":200},{"m":55,"lo":96,"hi":196},{"m":60,"lo":94,"hi":197},{"m":65,"lo":90,"hi":186},{"m":70,"lo":88,"hi":182},{"m":75,"lo":86,"hi":178},{"m":80,"lo":84,"hi":174},{"m":85,"lo":82,"hi":172},{"m":90,"lo":80,"hi":168},{"m":95,"lo":76,"hi":165},{"m":100,"lo":72,"hi":162},{"m":105,"lo":68,"hi":158},{"m":110,"lo":64,"hi":155},{"m":115,"lo":60,"hi":152},{"m":120,"lo":56,"hi":150},{"m":125,"lo":53,"hi":146},{"m":130,"lo":50,"hi":144},{"m":135,"lo":48,"hi":141},{"m":140,"lo":46,"hi":142},{"m":145,"lo":45,"hi":138},{"m":150,"lo":44,"hi":139},{"m":155,"lo":42,"hi":134},{"m":160,"lo":40,"hi":133},{"m":165,"lo":38,"hi":130},{"m":170,"lo":36,"hi":131},{"m":175,"lo":35,"hi":127},{"m":180,"lo":34,"hi":128},{"m":185,"lo":33,"hi":125},{"m":190,"lo":32,"hi":126},{"m":195,"lo":31,"hi":123},{"m":200,"lo":30,"hi":125},{"m":205,"lo":30,"hi":122},{"m":210,"lo":29,"hi":124},{"m":215,"lo":30,"hi":122},{"m":220,"lo":31,"hi":126},{"m":225,"lo":32,"hi":124},{"m":230,"lo":34,"hi":128},{"m":235,"lo":36,"hi":126},{"m":240,"lo":38,"hi":132},{"m":245,"lo":40,"hi":130},{"m":250,"lo":42,"hi":136},{"m":255,"lo":44,"hi":134},{"m":260,"lo":46,"hi":140},{"m":265,"lo":48,"hi":138},{"m":270,"lo":50,"hi":142},{"m":275,"lo":52,"hi":140},{"m":280,"lo":54,"hi":146},{"m":285,"lo":56,"hi":145},{"m":290,"lo":58,"hi":150},{"m":295,"lo":60,"hi":152},{"m":300,"lo":62,"hi":156},{"m":305,"lo":64,"hi":155},{"m":310,"lo":66,"hi":160},{"m":315,"lo":68,"hi":162},{"m":320,"lo":70,"hi":166},{"m":325,"lo":72,"hi":165},{"m":330,"lo":74,"hi":170},{"m":335,"lo":78,"hi":172},{"m":340,"lo":84,"hi":178},{"m":345,"lo":92,"hi":184},{"m":350,"lo":102,"hi":190},{"m":355,"lo":112,"hi":196},{"m":357,"lo":118,"hi":205},{"m":360,"lo":124,"hi":215},{"m":363,"lo":130,"hi":235},{"m":366,"lo":136,"hi":262},{"m":369,"lo":142,"hi":300},{"m":372,"lo":150,"hi":350},{"m":375,"lo":160,"hi":400},{"m":377,"lo":170,"hi":430},{"m":379,"lo":180,"hi":460},{"m":381,"lo":190,"hi":500},{"m":383,"lo":205,"hi":550},{"m":385,"lo":220,"hi":610},{"m":387,"lo":240,"hi":670},{"m":388.5,"lo":260,"hi":730},{"m":389.5,"lo":280,"hi":790},{"m":390,"lo":300,"hi":820}],
"sDIS":[{"m":0,"hi":400,"b":0},{"m":0,"hi":20,"b":20},{"m":0,"hi":70,"b":70},{"m":0,"hi":140,"b":140},{"m":0,"hi":200,"b":200},{"m":0,"hi":300,"b":300},{"m":4,"hi":300,"b":300},{"m":7,"hi":305,"b":305},{"m":30,"hi":470,"b":270},{"m":30,"hi":380,"b":380},{"m":30,"hi":330,"b":330},{"m":30,"hi":300,"b":300},{"m":60,"hi":260,"b":197},{"m":60,"hi":210,"b":210},{"m":75,"hi":225,"b":178},{"m":90,"hi":330,"b":168},{"m":90,"hi":200,"b":200},{"m":120,"hi":320,"b":150},{"m":125,"hi":180,"b":180},{"m":150,"hi":280,"b":139},{"m":150,"hi":170,"b":170},{"m":180,"hi":215,"b":128},{"m":210,"hi":265,"b":124},{"m":240,"hi":220,"b":132},{"m":270,"hi":250,"b":142},{"m":270,"hi":205,"b":205},{"m":300,"hi":240,"b":156},{"m":330,"hi":265,"b":170},{"m":360,"hi":310,"b":215},{"m":362,"hi":240,"b":240},{"m":375,"hi":740,"b":400},{"m":375,"hi":460,"b":460},{"m":375,"hi":400,"b":400},{"m":375,"hi":370,"b":370},{"m":380,"hi":430,"b":430},{"m":385,"hi":560,"b":560},{"m":390,"hi":820,"b":20},{"m":390,"hi":740,"b":740},{"m":390,"hi":650,"b":650},{"m":390,"hi":20,"b":20}],
"nMMM":[{"m":0.3,"lo":30,"hi":110},{"m":0.8,"lo":40,"hi":180},{"m":1.2,"lo":80,"hi":215},{"m":2,"lo":100,"hi":240},{"m":4,"lo":102,"hi":235},{"m":7,"lo":100,"hi":225},{"m":10,"lo":100,"hi":222},{"m":15,"lo":98,"hi":215},{"m":20,"lo":96,"hi":210},{"m":25,"lo":98,"hi":218},{"m":28,"lo":102,"hi":232},{"m":30,"lo":108,"hi":245},{"m":32,"lo":96,"hi":205},{"m":36,"lo":90,"hi":190},{"m":40,"lo":86,"hi":185},{"m":45,"lo":82,"hi":180},{"m":50,"lo":79,"hi":178},{"m":55,"lo":76,"hi":176},{"m":60,"lo":73,"hi":180},{"m":65,"lo":72,"hi":172},{"m":70,"lo":70,"hi":170},{"m":75,"lo":68,"hi":166},{"m":80,"lo":67,"hi":168},{"m":85,"lo":66,"hi":164},{"m":90,"lo":65,"hi":166},{"m":95,"lo":62,"hi":160},{"m":100,"lo":60,"hi":158},{"m":105,"lo":57,"hi":154},{"m":110,"lo":55,"hi":152},{"m":115,"lo":52,"hi":148},{"m":120,"lo":50,"hi":146},{"m":125,"lo":48,"hi":143},{"m":130,"lo":46,"hi":142},{"m":135,"lo":44,"hi":139},{"m":140,"lo":42,"hi":138},{"m":145,"lo":41,"hi":137},{"m":150,"lo":40,"hi":139},{"m":155,"lo":38,"hi":134},{"m":160,"lo":36,"hi":132},{"m":165,"lo":34,"hi":130},{"m":170,"lo":32,"hi":128},{"m":175,"lo":31,"hi":126},{"m":180,"lo":30,"hi":125},{"m":185,"lo":29,"hi":124},{"m":190,"lo":28,"hi":122},{"m":195,"lo":28,"hi":121},{"m":200,"lo":28,"hi":123},{"m":205,"lo":28,"hi":121},{"m":210,"lo":29,"hi":124},{"m":215,"lo":30,"hi":122},{"m":220,"lo":31,"hi":125},{"m":225,"lo":32,"hi":124},{"m":230,"lo":33,"hi":127},{"m":235,"lo":34,"hi":126},{"m":240,"lo":35,"hi":130},{"m":245,"lo":36,"hi":130},{"m":250,"lo":37,"hi":133},{"m":255,"lo":38,"hi":132},{"m":260,"lo":40,"hi":136},{"m":265,"lo":41,"hi":135},{"m":270,"lo":42,"hi":139},{"m":275,"lo":44,"hi":140},{"m":280,"lo":46,"hi":143},{"m":285,"lo":48,"hi":144},{"m":290,"lo":50,"hi":147},{"m":295,"lo":52,"hi":148},{"m":300,"lo":54,"hi":151},{"m":305,"lo":56,"hi":150},{"m":310,"lo":58,"hi":154},{"m":315,"lo":60,"hi":155},{"m":320,"lo":62,"hi":158},{"m":325,"lo":64,"hi":160},{"m":330,"lo":66,"hi":162},{"m":335,"lo":70,"hi":166},{"m":340,"lo":76,"hi":170},{"m":345,"lo":84,"hi":176},{"m":350,"lo":92,"hi":182},{"m":355,"lo":100,"hi":190},{"m":357,"lo":108,"hi":196},{"m":360,"lo":116,"hi":205},{"m":363,"lo":128,"hi":225},{"m":366,"lo":140,"hi":255},{"m":369,"lo":152,"hi":295},{"m":372,"lo":160,"hi":340},{"m":374,"lo":165,"hi":380},{"m":375,"lo":168,"hi":416},{"m":377,"lo":180,"hi":450},{"m":379,"lo":195,"hi":485},{"m":381,"lo":212,"hi":518},{"m":383,"lo":240,"hi":570},{"m":385,"lo":270,"hi":620},{"m":387,"lo":300,"hi":680},{"m":388.5,"lo":320,"hi":730},{"m":389.5,"lo":340,"hi":780},{"m":390,"lo":360,"hi":815}],
"sMMM":[{"m":0,"hi":100,"b":30},{"m":0,"hi":40,"b":40},{"m":0,"hi":60,"b":60},{"m":3,"hi":270,"b":240},{"m":5,"hi":255,"b":255},{"m":10,"hi":230,"b":222},{"m":30,"hi":450,"b":245},{"m":30,"hi":300,"b":300},{"m":30,"hi":270,"b":270},{"m":30,"hi":240,"b":240},{"m":60,"hi":260,"b":180},{"m":75,"hi":195,"b":166},{"m":90,"hi":225,"b":166},{"m":90,"hi":160,"b":160},{"m":120,"hi":255,"b":146},{"m":120,"hi":160,"b":160},{"m":125,"hi":155,"b":155},{"m":150,"hi":170,"b":139},{"m":150,"hi":155,"b":155},{"m":180,"hi":175,"b":125},{"m":210,"hi":165,"b":124},{"m":240,"hi":160,"b":130},{"m":270,"hi":180,"b":139},{"m":300,"hi":205,"b":151},{"m":300,"hi":160,"b":160},{"m":330,"hi":255,"b":162},{"m":345,"hi":175,"b":176},{"m":360,"hi":260,"b":205},{"m":360,"hi":220,"b":220},{"m":375,"hi":785,"b":416},{"m":375,"hi":490,"b":490},{"m":375,"hi":420,"b":420},{"m":378,"hi":410,"b":410},{"m":385,"hi":680,"b":680},{"m":390,"hi":815,"b":10},{"m":390,"hi":760,"b":760},{"m":390,"hi":700,"b":700},{"m":390,"hi":10,"b":10}],
"nCAT":[{"m":0.3,"lo":30,"hi":300},{"m":0.8,"lo":90,"hi":310},{"m":1.2,"lo":160,"hi":305},{"m":2,"lo":180,"hi":300},{"m":4,"lo":175,"hi":292},{"m":7,"lo":170,"hi":282},{"m":10,"lo":166,"hi":276},{"m":15,"lo":162,"hi":268},{"m":20,"lo":156,"hi":260},{"m":25,"lo":150,"hi":258},{"m":28,"lo":140,"hi":275},{"m":30,"lo":125,"hi":300},{"m":32,"lo":140,"hi":250},{"m":36,"lo":136,"hi":232},{"m":40,"lo":132,"hi":226},{"m":45,"lo":126,"hi":218},{"m":50,"lo":122,"hi":212},{"m":55,"lo":116,"hi":208},{"m":60,"lo":111,"hi":204},{"m":65,"lo":106,"hi":198},{"m":70,"lo":102,"hi":194},{"m":75,"lo":98,"hi":190},{"m":80,"lo":94,"hi":188},{"m":85,"lo":88,"hi":184},{"m":90,"lo":82,"hi":181},{"m":95,"lo":80,"hi":178},{"m":100,"lo":78,"hi":176},{"m":105,"lo":76,"hi":174},{"m":110,"lo":74,"hi":172},{"m":115,"lo":72,"hi":170},{"m":120,"lo":70,"hi":169},{"m":125,"lo":68,"hi":163},{"m":130,"lo":66,"hi":158},{"m":135,"lo":64,"hi":155},{"m":140,"lo":62,"hi":152},{"m":145,"lo":60,"hi":149},{"m":150,"lo":58,"hi":146},{"m":155,"lo":56,"hi":143},{"m":160,"lo":54,"hi":141},{"m":165,"lo":52,"hi":139},{"m":170,"lo":50,"hi":137},{"m":175,"lo":49,"hi":135},{"m":180,"lo":47,"hi":134},{"m":185,"lo":46,"hi":133},{"m":190,"lo":46,"hi":135},{"m":195,"lo":46,"hi":133},{"m":200,"lo":46,"hi":135},{"m":205,"lo":46,"hi":132},{"m":210,"lo":47,"hi":134},{"m":215,"lo":46,"hi":133},{"m":220,"lo":46,"hi":135},{"m":225,"lo":46,"hi":133},{"m":230,"lo":47,"hi":135},{"m":235,"lo":48,"hi":134},{"m":240,"lo":47,"hi":134},{"m":245,"lo":49,"hi":136},{"m":250,"lo":50,"hi":137},{"m":255,"lo":51,"hi":136},{"m":260,"lo":52,"hi":138},{"m":265,"lo":52,"hi":137},{"m":270,"lo":53,"hi":140},{"m":275,"lo":55,"hi":142},{"m":280,"lo":57,"hi":144},{"m":285,"lo":59,"hi":146},{"m":290,"lo":60,"hi":148},{"m":295,"lo":62,"hi":150},{"m":300,"lo":64,"hi":152},{"m":305,"lo":67,"hi":155},{"m":310,"lo":70,"hi":158},{"m":315,"lo":73,"hi":161},{"m":320,"lo":76,"hi":164},{"m":325,"lo":79,"hi":166},{"m":330,"lo":82,"hi":170},{"m":335,"lo":86,"hi":176},{"m":340,"lo":90,"hi":184},{"m":345,"lo":95,"hi":192},{"m":350,"lo":100,"hi":202},{"m":355,"lo":105,"hi":214},{"m":360,"lo":111,"hi":228},{"m":363,"lo":118,"hi":245},{"m":366,"lo":124,"hi":262},{"m":369,"lo":130,"hi":280},{"m":372,"lo":145,"hi":320},{"m":375,"lo":169,"hi":380},{"m":378,"lo":195,"hi":425},{"m":381,"lo":230,"hi":470},{"m":384,"lo":270,"hi":530},{"m":386,"lo":300,"hi":580},{"m":388,"lo":340,"hi":650},{"m":389.3,"lo":370,"hi":720},{"m":390,"lo":400,"hi":800}],
"sCAT":[{"m":0,"hi":310,"b":10},{"m":0,"hi":100,"b":100},{"m":0,"hi":50,"b":50},{"m":0,"hi":20,"b":20},{"m":2,"hi":370,"b":300},{"m":6,"hi":320,"b":320},{"m":9,"hi":320,"b":320},{"m":30,"hi":480,"b":300},{"m":30,"hi":370,"b":370},{"m":30,"hi":310,"b":310},{"m":30,"hi":280,"b":280},{"m":60,"hi":340,"b":204},{"m":60,"hi":240,"b":240},{"m":60,"hi":220,"b":220},{"m":75,"hi":235,"b":190},{"m":90,"hi":270,"b":181},{"m":120,"hi":300,"b":169},{"m":120,"hi":200,"b":200},{"m":120,"hi":180,"b":180},{"m":150,"hi":225,"b":146},{"m":180,"hi":180,"b":134},{"m":210,"hi":185,"b":134},{"m":240,"hi":185,"b":134},{"m":270,"hi":185,"b":140},{"m":300,"hi":220,"b":152},{"m":300,"hi":180,"b":180},{"m":330,"hi":265,"b":170},{"m":330,"hi":200,"b":200},{"m":345,"hi":215,"b":192},{"m":360,"hi":330,"b":228},{"m":360,"hi":260,"b":260},{"m":375,"hi":745,"b":380},{"m":375,"hi":490,"b":490},{"m":375,"hi":450,"b":450},{"m":375,"hi":420,"b":420},{"m":379,"hi":480,"b":480},{"m":387,"hi":700,"b":700},{"m":390,"hi":800,"b":20},{"m":390,"hi":750,"b":750},{"m":390,"hi":700,"b":700},{"m":390,"hi":20,"b":20}],
"nFCX":[{"m":0.3,"lo":20,"hi":450},{"m":0.8,"lo":150,"hi":490},{"m":1.3,"lo":280,"hi":515},{"m":2,"lo":300,"hi":510},{"m":4,"lo":295,"hi":490},{"m":7,"lo":288,"hi":478},{"m":10,"lo":280,"hi":474},{"m":15,"lo":270,"hi":460},{"m":20,"lo":256,"hi":446},{"m":25,"lo":242,"hi":432},{"m":28,"lo":232,"hi":430},{"m":30,"lo":226,"hi":440},{"m":32,"lo":240,"hi":410},{"m":36,"lo":230,"hi":390},{"m":40,"lo":222,"hi":378},{"m":45,"lo":214,"hi":366},{"m":50,"lo":206,"hi":352},{"m":55,"lo":200,"hi":340},{"m":60,"lo":197,"hi":330},{"m":65,"lo":190,"hi":318},{"m":70,"lo":184,"hi":308},{"m":75,"lo":178,"hi":300},{"m":80,"lo":174,"hi":296},{"m":85,"lo":170,"hi":290},{"m":90,"lo":168,"hi":285},{"m":95,"lo":160,"hi":280},{"m":100,"lo":154,"hi":276},{"m":105,"lo":148,"hi":270},{"m":110,"lo":144,"hi":264},{"m":115,"lo":141,"hi":258},{"m":120,"lo":139,"hi":255},{"m":125,"lo":135,"hi":246},{"m":130,"lo":132,"hi":238},{"m":135,"lo":129,"hi":230},{"m":140,"lo":127,"hi":224},{"m":145,"lo":125,"hi":218},{"m":150,"lo":124,"hi":212},{"m":155,"lo":120,"hi":210},{"m":160,"lo":116,"hi":206},{"m":165,"lo":112,"hi":204},{"m":170,"lo":108,"hi":202},{"m":175,"lo":105,"hi":198},{"m":180,"lo":102,"hi":197},{"m":185,"lo":100,"hi":195},{"m":190,"lo":98,"hi":193},{"m":195,"lo":96,"hi":191},{"m":200,"lo":95,"hi":191},{"m":205,"lo":95,"hi":190},{"m":210,"lo":95,"hi":190},{"m":215,"lo":95,"hi":191},{"m":220,"lo":95,"hi":190},{"m":225,"lo":95,"hi":192},{"m":230,"lo":96,"hi":194},{"m":235,"lo":97,"hi":196},{"m":240,"lo":97,"hi":198},{"m":245,"lo":98,"hi":200},{"m":250,"lo":100,"hi":206},{"m":255,"lo":101,"hi":210},{"m":260,"lo":102,"hi":212},{"m":265,"lo":102,"hi":211},{"m":270,"lo":102,"hi":212},{"m":275,"lo":104,"hi":212},{"m":280,"lo":105,"hi":211},{"m":285,"lo":107,"hi":212},{"m":290,"lo":108,"hi":212},{"m":295,"lo":109,"hi":213},{"m":300,"lo":109,"hi":212},{"m":305,"lo":112,"hi":216},{"m":310,"lo":114,"hi":220},{"m":315,"lo":116,"hi":224},{"m":320,"lo":118,"hi":228},{"m":325,"lo":121,"hi":231},{"m":330,"lo":124,"hi":234},{"m":335,"lo":132,"hi":244},{"m":340,"lo":142,"hi":254},{"m":345,"lo":152,"hi":264},{"m":350,"lo":162,"hi":272},{"m":355,"lo":172,"hi":279},{"m":360,"lo":182,"hi":285},{"m":363,"lo":190,"hi":310},{"m":366,"lo":198,"hi":340},{"m":369,"lo":208,"hi":370},{"m":372,"lo":225,"hi":410},{"m":375,"lo":270,"hi":460},{"m":378,"lo":300,"hi":495},{"m":380,"lo":328,"hi":518},{"m":383,"lo":370,"hi":590},{"m":385,"lo":416,"hi":664},{"m":387,"lo":440,"hi":720},{"m":389,"lo":460,"hi":790},{"m":390,"lo":480,"hi":835}],
"sFCX":[{"m":0,"hi":500,"b":0},{"m":0,"hi":20,"b":20},{"m":0,"hi":80,"b":80},{"m":0,"hi":150,"b":150},{"m":0,"hi":250,"b":250},{"m":30,"hi":560,"b":440},{"m":30,"hi":430,"b":430},{"m":60,"hi":450,"b":330},{"m":60,"hi":310,"b":310},{"m":75,"hi":310,"b":300},{"m":90,"hi":375,"b":285},{"m":90,"hi":290,"b":290},{"m":120,"hi":415,"b":255},{"m":120,"hi":270,"b":270},{"m":150,"hi":320,"b":212},{"m":150,"hi":230,"b":230},{"m":180,"hi":295,"b":197},{"m":180,"hi":200,"b":200},{"m":210,"hi":305,"b":190},{"m":210,"hi":200,"b":200},{"m":240,"hi":300,"b":198},{"m":240,"hi":210,"b":210},{"m":270,"hi":280,"b":212},{"m":270,"hi":250,"b":250},{"m":300,"hi":295,"b":212},{"m":300,"hi":230,"b":230},{"m":330,"hi":345,"b":234},{"m":330,"hi":260,"b":260},{"m":345,"hi":250,"b":250},{"m":360,"hi":360,"b":285},{"m":360,"hi":300,"b":300},{"m":375,"hi":775,"b":460},{"m":375,"hi":550,"b":550},{"m":375,"hi":480,"b":480},{"m":379,"hi":510,"b":510},{"m":386,"hi":660,"b":660},{"m":390,"hi":835,"b":30},{"m":390,"hi":780,"b":780},{"m":390,"hi":720,"b":720},{"m":390,"hi":30,"b":30}]
},
"concat":[
{"title":"A: 1−min Realized Volatility (F)","width":465,"height":229,"data":{"name":"vF"},
 "layer":[
  {"encoding":{
    "x":{"field":"m","type":"quantitative","scale":{"domain":[0,390],"nice":false,"zero":false},"axis":{"orient":"bottom","values":[0,30,60,90,120,150,180,210,240,270,300,330,360,390],"labelExpr":"timeFormat(datetime(2000,0,1,9,30+datum.value),'%H:%M')","title":"Intraday Calendar Time (min)"}},
    "y":{"field":"v","type":"quantitative","scale":{"domain":[20,90],"nice":false,"zero":false},"axis":{"orient":"left","values":[20,30,40,50,60,70,80,90],"title":"Estimated Volatility − annu. std. (%)"}}},
   "layer":[
    {"mark":{"type":"line","color":"black","strokeWidth":1}},
    {"mark":{"type":"point","shape":"M-1,0L1,0M0,-1L0,1M-0.7,-0.7L0.7,0.7M-0.7,0.7L0.7,-0.7","filled":false,"color":"black","size":80,"strokeWidth":1.2,"opacity":1}}]},
  {"mark":{"type":"point","opacity":0},"encoding":{
    "x":{"field":"m","type":"quantitative","axis":{"orient":"top","values":[0,30,60,90,120,150,180,210,240,270,300,330,360,390],"labels":false,"title":null}},
    "y":{"field":"v","type":"quantitative","axis":{"orient":"right","values":[20,30,40,50,60,70,80,90],"labels":false,"title":null}}}}],
 "resolve":{"axis":{"x":"independent","y":"independent"}}},
{"title":"B: Number of transactions (F)","width":454,"height":229,
 "layer":[
  {"encoding":{
    "x":{"field":"m","type":"quantitative","scale":{"domain":[0,390],"nice":false,"zero":false},"axis":{"orient":"bottom","values":[0,30,60,90,120,150,180,210,240,270,300,330,360,390],"labelExpr":"timeFormat(datetime(2000,0,1,9,30+datum.value),'%H:%M')","title":"Intraday Calendar Time (sec)"}},
    "y":{"field":"hi","type":"quantitative","scale":{"domain":[0,1000],"nice":false,"zero":false},"axis":{"orient":"left","values":[0,200,400,600,800,1000],"format":"d","title":"Number of Transactions"}}},
   "layer":[
    {"data":{"name":"nF"},"mark":{"type":"area","color":"black","stroke":"black","strokeWidth":1},"encoding":{"y2":{"field":"lo"}}},
    {"data":{"name":"nF"},"mark":{"type":"point","shape":"M-1,0L1,0M0,-1L0,1M-0.7,-0.7L0.7,0.7M-0.7,0.7L0.7,-0.7","filled":false,"color":"black","size":64,"strokeWidth":1,"opacity":1}},
    {"data":{"name":"sF"},"mark":{"type":"rule","color":"black","strokeWidth":0.8},"encoding":{"y2":{"field":"b"}}},
    {"data":{"name":"sF"},"mark":{"type":"point","shape":"M-1,0L1,0M0,-1L0,1M-0.7,-0.7L0.7,0.7M-0.7,0.7L0.7,-0.7","filled":false,"color":"black","size":64,"strokeWidth":1,"opacity":1}}]},
  {"data":{"name":"nF"},"mark":{"type":"point","shape":"M-1,0L1,0M0,-1L0,1M-0.7,-0.7L0.7,0.7M-0.7,0.7L0.7,-0.7","filled":false,"color":"black","size":64,"strokeWidth":1,"opacity":1},"encoding":{
    "x":{"field":"m","type":"quantitative","axis":{"orient":"top","values":[0,30,60,90,120,150,180,210,240,270,300,330,360,390],"labels":false,"title":null}},
    "y":{"field":"lo","type":"quantitative","axis":{"orient":"right","values":[0,200,400,600,800,1000],"labels":false,"title":null}}}}],
 "resolve":{"axis":{"x":"independent","y":"independent"}}},
{"title":"A: 1−min Realized Volatility (DIS)","width":465,"height":229,"data":{"name":"vDIS"},
 "layer":[
  {"encoding":{
    "x":{"field":"m","type":"quantitative","scale":{"domain":[0,390],"nice":false,"zero":false},"axis":{"orient":"bottom","values":[0,30,60,90,120,150,180,210,240,270,300,330,360,390],"labelExpr":"timeFormat(datetime(2000,0,1,9,30+datum.value),'%H:%M')","title":"Intraday Calendar Time (min)"}},
    "y":{"field":"v","type":"quantitative","scale":{"domain":[10,70],"nice":false,"zero":false},"axis":{"orient":"left","values":[10,20,30,40,50,60,70],"title":"Estimated Volatility − annu. std. (%)"}}},
   "layer":[
    {"mark":{"type":"line","color":"black","strokeWidth":1}},
    {"mark":{"type":"point","shape":"M-1,0L1,0M0,-1L0,1M-0.7,-0.7L0.7,0.7M-0.7,0.7L0.7,-0.7","filled":false,"color":"black","size":80,"strokeWidth":1.2,"opacity":1}}]},
  {"mark":{"type":"point","opacity":0},"encoding":{
    "x":{"field":"m","type":"quantitative","axis":{"orient":"top","values":[0,30,60,90,120,150,180,210,240,270,300,330,360,390],"labels":false,"title":null}},
    "y":{"field":"v","type":"quantitative","axis":{"orient":"right","values":[10,20,30,40,50,60,70],"labels":false,"title":null}}}}],
 "resolve":{"axis":{"x":"independent","y":"independent"}}},
{"title":"B: Number of transactions (DIS)","width":454,"height":229,
 "layer":[
  {"encoding":{
    "x":{"field":"m","type":"quantitative","scale":{"domain":[0,390],"nice":false,"zero":false},"axis":{"orient":"bottom","values":[0,30,60,90,120,150,180,210,240,270,300,330,360,390],"labelExpr":"timeFormat(datetime(2000,0,1,9,30+datum.value),'%H:%M')","title":"Intraday Calendar Time (sec)"}},
    "y":{"field":"hi","type":"quantitative","scale":{"domain":[0,1000],"nice":false,"zero":false},"axis":{"orient":"left","values":[0,200,400,600,800,1000],"format":"d","title":"Number of Transactions"}}},
   "layer":[
    {"data":{"name":"nDIS"},"mark":{"type":"area","color":"black","stroke":"black","strokeWidth":1},"encoding":{"y2":{"field":"lo"}}},
    {"data":{"name":"nDIS"},"mark":{"type":"point","shape":"M-1,0L1,0M0,-1L0,1M-0.7,-0.7L0.7,0.7M-0.7,0.7L0.7,-0.7","filled":false,"color":"black","size":64,"strokeWidth":1,"opacity":1}},
    {"data":{"name":"sDIS"},"mark":{"type":"rule","color":"black","strokeWidth":0.8},"encoding":{"y2":{"field":"b"}}},
    {"data":{"name":"sDIS"},"mark":{"type":"point","shape":"M-1,0L1,0M0,-1L0,1M-0.7,-0.7L0.7,0.7M-0.7,0.7L0.7,-0.7","filled":false,"color":"black","size":64,"strokeWidth":1,"opacity":1}}]},
  {"data":{"name":"nDIS"},"mark":{"type":"point","shape":"M-1,0L1,0M0,-1L0,1M-0.7,-0.7L0.7,0.7M-0.7,0.7L0.7,-0.7","filled":false,"color":"black","size":64,"strokeWidth":1,"opacity":1},"encoding":{
    "x":{"field":"m","type":"quantitative","axis":{"orient":"top","values":[0,30,60,90,120,150,180,210,240,270,300,330,360,390],"labels":false,"title":null}},
    "y":{"field":"lo","type":"quantitative","axis":{"orient":"right","values":[0,200,400,600,800,1000],"labels":false,"title":null}}}}],
 "resolve":{"axis":{"x":"independent","y":"independent"}}},
{"title":"A: 1−min Realized Volatility (MMM)","width":465,"height":229,"data":{"name":"vMMM"},
 "layer":[
  {"encoding":{
    "x":{"field":"m","type":"quantitative","scale":{"domain":[0,390],"nice":false,"zero":false},"axis":{"orient":"bottom","values":[0,30,60,90,120,150,180,210,240,270,300,330,360,390],"labelExpr":"timeFormat(datetime(2000,0,1,9,30+datum.value),'%H:%M')","title":"Intraday Calendar Time (min)"}},
    "y":{"field":"v","type":"quantitative","scale":{"domain":[0,100],"nice":false,"zero":false},"axis":{"orient":"left","values":[0,20,40,60,80,100],"title":"Estimated Volatility − annu. std. (%)"}}},
   "layer":[
    {"mark":{"type":"line","color":"black","strokeWidth":1}},
    {"mark":{"type":"point","shape":"M-1,0L1,0M0,-1L0,1M-0.7,-0.7L0.7,0.7M-0.7,0.7L0.7,-0.7","filled":false,"color":"black","size":80,"strokeWidth":1.2,"opacity":1}}]},
  {"mark":{"type":"point","opacity":0},"encoding":{
    "x":{"field":"m","type":"quantitative","axis":{"orient":"top","values":[0,30,60,90,120,150,180,210,240,270,300,330,360,390],"labels":false,"title":null}},
    "y":{"field":"v","type":"quantitative","axis":{"orient":"right","values":[0,20,40,60,80,100],"labels":false,"title":null}}}}],
 "resolve":{"axis":{"x":"independent","y":"independent"}}},
{"title":"B: Number of transactions (MMM)","width":454,"height":229,
 "layer":[
  {"encoding":{
    "x":{"field":"m","type":"quantitative","scale":{"domain":[0,390],"nice":false,"zero":false},"axis":{"orient":"bottom","values":[0,30,60,90,120,150,180,210,240,270,300,330,360,390],"labelExpr":"timeFormat(datetime(2000,0,1,9,30+datum.value),'%H:%M')","title":"Intraday Calendar Time (sec)"}},
    "y":{"field":"hi","type":"quantitative","scale":{"domain":[0,1000],"nice":false,"zero":false},"axis":{"orient":"left","values":[0,200,400,600,800,1000],"format":"d","title":"Number of Transactions"}}},
   "layer":[
    {"data":{"name":"nMMM"},"mark":{"type":"area","color":"black","stroke":"black","strokeWidth":1},"encoding":{"y2":{"field":"lo"}}},
    {"data":{"name":"nMMM"},"mark":{"type":"point","shape":"M-1,0L1,0M0,-1L0,1M-0.7,-0.7L0.7,0.7M-0.7,0.7L0.7,-0.7","filled":false,"color":"black","size":64,"strokeWidth":1,"opacity":1}},
    {"data":{"name":"sMMM"},"mark":{"type":"rule","color":"black","strokeWidth":0.8},"encoding":{"y2":{"field":"b"}}},
    {"data":{"name":"sMMM"},"mark":{"type":"point","shape":"M-1,0L1,0M0,-1L0,1M-0.7,-0.7L0.7,0.7M-0.7,0.7L0.7,-0.7","filled":false,"color":"black","size":64,"strokeWidth":1,"opacity":1}}]},
  {"data":{"name":"nMMM"},"mark":{"type":"point","shape":"M-1,0L1,0M0,-1L0,1M-0.7,-0.7L0.7,0.7M-0.7,0.7L0.7,-0.7","filled":false,"color":"black","size":64,"strokeWidth":1,"opacity":1},"encoding":{
    "x":{"field":"m","type":"quantitative","axis":{"orient":"top","values":[0,30,60,90,120,150,180,210,240,270,300,330,360,390],"labels":false,"title":null}},
    "y":{"field":"lo","type":"quantitative","axis":{"orient":"right","values":[0,200,400,600,800,1000],"labels":false,"title":null}}}}],
 "resolve":{"axis":{"x":"independent","y":"independent"}}},
{"title":"A: 1−min Realized Volatility (CAT)","width":465,"height":229,"data":{"name":"vCAT"},
 "layer":[
  {"encoding":{
    "x":{"field":"m","type":"quantitative","scale":{"domain":[0,390],"nice":false,"zero":false},"axis":{"orient":"bottom","values":[0,30,60,90,120,150,180,210,240,270,300,330,360,390],"labelExpr":"timeFormat(datetime(2000,0,1,9,30+datum.value),'%H:%M')","title":"Intraday Calendar Time (min)"}},
    "y":{"field":"v","type":"quantitative","scale":{"domain":[10,70],"nice":false,"zero":false},"axis":{"orient":"left","values":[10,20,30,40,50,60,70],"title":"Estimated Volatility − annu. std. (%)"}}},
   "layer":[
    {"mark":{"type":"line","color":"black","strokeWidth":1}},
    {"mark":{"type":"point","shape":"M-1,0L1,0M0,-1L0,1M-0.7,-0.7L0.7,0.7M-0.7,0.7L0.7,-0.7","filled":false,"color":"black","size":80,"strokeWidth":1.2,"opacity":1}}]},
  {"mark":{"type":"point","opacity":0},"encoding":{
    "x":{"field":"m","type":"quantitative","axis":{"orient":"top","values":[0,30,60,90,120,150,180,210,240,270,300,330,360,390],"labels":false,"title":null}},
    "y":{"field":"v","type":"quantitative","axis":{"orient":"right","values":[10,20,30,40,50,60,70],"labels":false,"title":null}}}}],
 "resolve":{"axis":{"x":"independent","y":"independent"}}},
{"title":"B: Number of transactions (CAT)","width":460,"height":229,
 "layer":[
  {"encoding":{
    "x":{"field":"m","type":"quantitative","scale":{"domain":[0,390],"nice":false,"zero":false},"axis":{"orient":"bottom","values":[0,30,60,90,120,150,180,210,240,270,300,330,360,390],"labelExpr":"timeFormat(datetime(2000,0,1,9,30+datum.value),'%H:%M')","title":"Intraday Calendar Time (sec)"}},
    "y":{"field":"hi","type":"quantitative","scale":{"domain":[0,800],"nice":false,"zero":false},"axis":{"orient":"left","values":[0,200,400,600,800],"format":"d","title":"Number of Transactions"}}},
   "layer":[
    {"data":{"name":"nCAT"},"mark":{"type":"area","color":"black","stroke":"black","strokeWidth":1},"encoding":{"y2":{"field":"lo"}}},
    {"data":{"name":"nCAT"},"mark":{"type":"point","shape":"M-1,0L1,0M0,-1L0,1M-0.7,-0.7L0.7,0.7M-0.7,0.7L0.7,-0.7","filled":false,"color":"black","size":64,"strokeWidth":1,"opacity":1}},
    {"data":{"name":"sCAT"},"mark":{"type":"rule","color":"black","strokeWidth":0.8},"encoding":{"y2":{"field":"b"}}},
    {"data":{"name":"sCAT"},"mark":{"type":"point","shape":"M-1,0L1,0M0,-1L0,1M-0.7,-0.7L0.7,0.7M-0.7,0.7L0.7,-0.7","filled":false,"color":"black","size":64,"strokeWidth":1,"opacity":1}}]},
  {"data":{"name":"nCAT"},"mark":{"type":"point","shape":"M-1,0L1,0M0,-1L0,1M-0.7,-0.7L0.7,0.7M-0.7,0.7L0.7,-0.7","filled":false,"color":"black","size":64,"strokeWidth":1,"opacity":1},"encoding":{
    "x":{"field":"m","type":"quantitative","axis":{"orient":"top","values":[0,30,60,90,120,150,180,210,240,270,300,330,360,390],"labels":false,"title":null}},
    "y":{"field":"lo","type":"quantitative","axis":{"orient":"right","values":[0,200,400,600,800],"labels":false,"title":null}}}}],
 "resolve":{"axis":{"x":"independent","y":"independent"}}},
{"title":"A: 1−min Realized Volatility (FCX)","width":465,"height":229,"data":{"name":"vFCX"},
 "layer":[
  {"encoding":{
    "x":{"field":"m","type":"quantitative","scale":{"domain":[0,390],"nice":false,"zero":false},"axis":{"orient":"bottom","values":[0,30,60,90,120,150,180,210,240,270,300,330,360,390],"labelExpr":"timeFormat(datetime(2000,0,1,9,30+datum.value),'%H:%M')","title":"Intraday Calendar Time (min)"}},
    "y":{"field":"v","type":"quantitative","scale":{"domain":[20,100],"nice":false,"zero":false},"axis":{"orient":"left","values":[20,40,60,80,100],"title":"Estimated Volatility − annu. std. (%)"}}},
   "layer":[
    {"mark":{"type":"line","color":"black","strokeWidth":1}},
    {"mark":{"type":"point","shape":"M-1,0L1,0M0,-1L0,1M-0.7,-0.7L0.7,0.7M-0.7,0.7L0.7,-0.7","filled":false,"color":"black","size":80,"strokeWidth":1.2,"opacity":1}}]},
  {"mark":{"type":"point","opacity":0},"encoding":{
    "x":{"field":"m","type":"quantitative","axis":{"orient":"top","values":[0,30,60,90,120,150,180,210,240,270,300,330,360,390],"labels":false,"title":null}},
    "y":{"field":"v","type":"quantitative","axis":{"orient":"right","values":[20,40,60,80,100],"labels":false,"title":null}}}}],
 "resolve":{"axis":{"x":"independent","y":"independent"}}},
{"title":"B: Number of transactions (FCX)","width":454,"height":229,
 "layer":[
  {"encoding":{
    "x":{"field":"m","type":"quantitative","scale":{"domain":[0,390],"nice":false,"zero":false},"axis":{"orient":"bottom","values":[0,30,60,90,120,150,180,210,240,270,300,330,360,390],"labelExpr":"timeFormat(datetime(2000,0,1,9,30+datum.value),'%H:%M')","title":"Intraday Calendar Time (sec)"}},
    "y":{"field":"hi","type":"quantitative","scale":{"domain":[0,1000],"nice":false,"zero":false},"axis":{"orient":"left","values":[0,200,400,600,800,1000],"format":"d","title":"Number of Transactions"}}},
   "layer":[
    {"data":{"name":"nFCX"},"mark":{"type":"area","color":"black","stroke":"black","strokeWidth":1},"encoding":{"y2":{"field":"lo"}}},
    {"data":{"name":"nFCX"},"mark":{"type":"point","shape":"M-1,0L1,0M0,-1L0,1M-0.7,-0.7L0.7,0.7M-0.7,0.7L0.7,-0.7","filled":false,"color":"black","size":64,"strokeWidth":1,"opacity":1}},
    {"data":{"name":"sFCX"},"mark":{"type":"rule","color":"black","strokeWidth":0.8},"encoding":{"y2":{"field":"b"}}},
    {"data":{"name":"sFCX"},"mark":{"type":"point","shape":"M-1,0L1,0M0,-1L0,1M-0.7,-0.7L0.7,0.7M-0.7,0.7L0.7,-0.7","filled":false,"color":"black","size":64,"strokeWidth":1,"opacity":1}}]},
  {"data":{"name":"nFCX"},"mark":{"type":"point","shape":"M-1,0L1,0M0,-1L0,1M-0.7,-0.7L0.7,0.7M-0.7,0.7L0.7,-0.7","filled":false,"color":"black","size":64,"strokeWidth":1,"opacity":1},"encoding":{
    "x":{"field":"m","type":"quantitative","axis":{"orient":"top","values":[0,30,60,90,120,150,180,210,240,270,300,330,360,390],"labels":false,"title":null}},
    "y":{"field":"lo","type":"quantitative","axis":{"orient":"right","values":[0,200,400,600,800,1000],"labels":false,"title":null}}}}],
 "resolve":{"axis":{"x":"independent","y":"independent"}}}
],
"config":{
 "font":"Liberation Sans",
 "view":{"stroke":"black","strokeWidth":1},
 "title":{"fontSize":14.5,"fontWeight":"normal","color":"#111","offset":1,"baseline":"bottom","frame":"group"},
 "axis":{"grid":false,"domain":false,"ticks":true,"tickColor":"black","tickSize":-5,"labelFont":"Liberation Sans","labelFontSize":12,"labelColor":"#222","titleFontWeight":"normal","titleColor":"#222","labelFlush":false,"labelOverlap":false},
 "axisX":{"labelPadding":13,"titleFontSize":12.3,"titlePadding":9},
 "axisY":{"labelPadding":7,"titleFontSize":14.5,"titlePadding":0}
}
}
